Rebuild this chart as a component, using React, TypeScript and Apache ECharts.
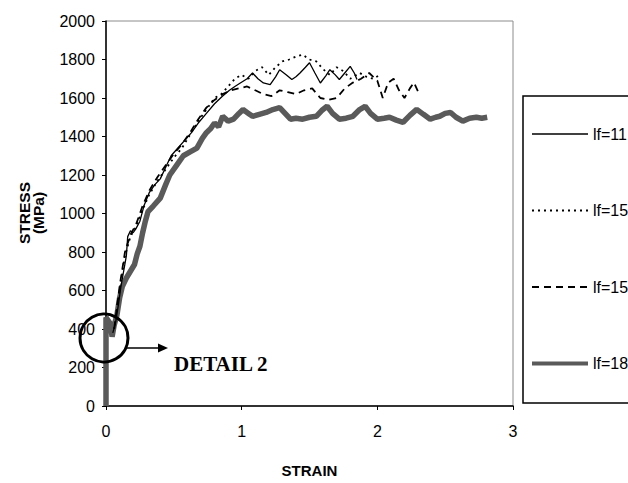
import React, { useEffect, useRef } from "react";
import * as echarts from "echarts";

const xTicks = [0, 1, 2, 3];
const yTicks = [0, 200, 400, 600, 800, 1000, 1200, 1400, 1600, 1800, 2000];

const seriesNames = ["lf=11", "lf=15", "lf=15 ", "lf=18"];

const lf11: [number, number][] = [
  [0.05, 380], [0.07, 430], [0.09, 520], [0.11, 620], [0.13, 700], [0.15, 780], [0.16, 880],
  [0.18, 910], [0.2, 900], [0.22, 920], [0.25, 960], [0.28, 1040], [0.32, 1110], [0.36, 1150],
  [0.4, 1180], [0.44, 1240], [0.48, 1300], [0.53, 1340], [0.58, 1380], [0.63, 1420], [0.68, 1470],
  [0.74, 1520], [0.8, 1570], [0.86, 1610], [0.91, 1640], [0.95, 1660], [0.99, 1678], [1.04, 1700],
  [1.08, 1730], [1.12, 1700], [1.16, 1678], [1.21, 1670], [1.25, 1710], [1.28, 1747], [1.33, 1720],
  [1.37, 1696], [1.4, 1710], [1.43, 1730], [1.47, 1760], [1.5, 1783], [1.54, 1730], [1.58, 1678],
  [1.62, 1715], [1.65, 1747], [1.69, 1720], [1.72, 1696], [1.76, 1730], [1.8, 1764], [1.83, 1730],
  [1.85, 1696],
];

const lf15dotted: [number, number][] = [
  [0.06, 400], [0.1, 600], [0.14, 780], [0.18, 880], [0.22, 930], [0.27, 1020], [0.32, 1100],
  [0.38, 1170], [0.44, 1230], [0.5, 1290], [0.56, 1340], [0.62, 1410], [0.68, 1480], [0.74, 1540],
  [0.8, 1600], [0.85, 1620], [0.9, 1660], [0.95, 1700], [1.0, 1720], [1.05, 1700], [1.1, 1740],
  [1.15, 1760], [1.2, 1720], [1.25, 1760], [1.3, 1790], [1.35, 1800], [1.4, 1815], [1.45, 1825],
  [1.5, 1800], [1.55, 1790], [1.6, 1750], [1.65, 1720], [1.7, 1760], [1.75, 1740], [1.8, 1700],
  [1.87, 1730], [1.92, 1710], [1.97, 1700], [2.02, 1720],
];

const lf15dashed: [number, number][] = [
  [0.06, 400], [0.1, 620], [0.14, 800], [0.18, 890], [0.22, 940], [0.27, 1040], [0.32, 1120],
  [0.38, 1190], [0.44, 1250], [0.5, 1310], [0.56, 1360], [0.62, 1420], [0.68, 1490], [0.74, 1550],
  [0.8, 1590], [0.86, 1620], [0.92, 1640], [0.98, 1650], [1.04, 1660], [1.1, 1640], [1.16, 1620],
  [1.22, 1610], [1.28, 1640], [1.34, 1630], [1.4, 1620], [1.46, 1640], [1.52, 1650], [1.58, 1600],
  [1.64, 1590], [1.7, 1600], [1.76, 1650], [1.82, 1680], [1.88, 1700], [1.94, 1730], [2.0, 1690],
  [2.04, 1600], [2.08, 1680], [2.12, 1700], [2.16, 1640], [2.2, 1600], [2.24, 1650], [2.27, 1680],
  [2.3, 1634],
];

const lf18: [number, number][] = [
  [0, 0], [0, 460], [0.03, 430], [0.045, 360], [0.06, 420], [0.08, 470], [0.1, 560], [0.12, 620],
  [0.15, 665], [0.18, 700], [0.21, 735], [0.23, 790], [0.25, 830], [0.27, 900], [0.29, 960],
  [0.31, 1010], [0.35, 1040], [0.4, 1080], [0.44, 1150], [0.47, 1200], [0.52, 1250], [0.57, 1300],
  [0.62, 1320], [0.67, 1340], [0.71, 1390], [0.74, 1420], [0.77, 1440], [0.8, 1470], [0.83, 1450],
  [0.86, 1505], [0.9, 1480], [0.94, 1490], [0.98, 1520], [1.01, 1540], [1.05, 1520], [1.08, 1505],
  [1.13, 1515], [1.18, 1525], [1.23, 1540], [1.28, 1550], [1.32, 1520], [1.36, 1490], [1.4, 1495],
  [1.45, 1490], [1.5, 1500], [1.55, 1505], [1.59, 1535], [1.63, 1557], [1.67, 1520], [1.72, 1490],
  [1.77, 1495], [1.82, 1505], [1.87, 1540], [1.91, 1557], [1.95, 1520], [2.0, 1490], [2.05, 1495],
  [2.09, 1500], [2.14, 1485], [2.19, 1474], [2.24, 1510], [2.29, 1541], [2.34, 1515], [2.39, 1490],
  [2.43, 1500], [2.46, 1505], [2.5, 1520], [2.54, 1525], [2.58, 1500], [2.63, 1480], [2.68, 1495],
  [2.73, 1500], [2.77, 1495], [2.81, 1500],
];

const annotationText = "DETAIL 2";
const xAxisTitle = "STRAIN";
const yAxisTitle = "STRESS\n(MPa)";

export default function App() {
  const ref = useRef<HTMLDivElement>(null);
  useEffect(() => {
    if (!ref.current) return;
    const chart = echarts.init(ref.current, undefined, { renderer: "svg" });
    const font = "Arial, 'Liberation Sans', sans-serif";
    const styles = [
      { color: "#000", width: 1.3, type: "solid" as any },
      { color: "#000", width: 1.8, type: [2, 4] as any },
      { color: "#000", width: 1.8, type: [7, 5] as any },
      { color: "#5a5a5a", width: 5.5, type: "solid" as any },
    ];
    const legendWidths = [1.3, 1.8, 2, 4];
    const datas = [lf11, lf15dotted, lf15dashed, lf18];
    chart.setOption({
      animation: false,
      backgroundColor: "#ffffff",
      textStyle: { fontFamily: font },
      grid: {
        left: 106,
        top: 21,
        width: 407,
        height: 388,
        show: true,
        borderColor: "#8c8c8c",
        borderWidth: 1,
        backgroundColor: "transparent",
      },
      xAxis: {
        type: "value",
        min: xTicks[0],
        max: xTicks[xTicks.length - 1],
        interval: 1,
        name: xAxisTitle,
        nameLocation: "middle",
        nameGap: 57,
        nameTextStyle: { fontSize: 15, fontWeight: "bold", color: "#000", fontFamily: font },
        axisLine: { lineStyle: { color: "#000", width: 1.5 } },
        axisTick: { show: true, length: 4, lineStyle: { color: "#000", width: 1 } },
        axisLabel: { fontSize: 16, color: "#000", margin: 17, fontFamily: font, formatter: (v: number) => String(v) },
        splitLine: { show: false },
      },
      yAxis: {
        type: "value",
        min: yTicks[0],
        max: yTicks[yTicks.length - 1],
        interval: 200,
        axisLine: { show: true, lineStyle: { color: "#000", width: 1.5 } },
        axisTick: { show: true, length: 4, lineStyle: { color: "#000", width: 1 } },
        axisLabel: { fontSize: 16, color: "#000", margin: 11, fontFamily: font, formatter: (v: number) => String(v) },
        splitLine: { show: false },
      },
      legend: {
        orient: "vertical",
        left: 530,
        top: 126,
        padding: 0,
        itemWidth: 56,
        itemHeight: 16,
        itemGap: 60.5,
        itemStyle: { opacity: 0 },
        data: seriesNames.map((n, i) => ({
          name: n,
          itemStyle: { opacity: 0 },
          lineStyle: { color: styles[i].color, width: legendWidths[i], type: styles[i].type },
        })),
        formatter: (n: string) => n.trim(),
        textStyle: { fontSize: 16, color: "#000", fontFamily: font, lineHeight: 16 },
        selectedMode: false,
      },
      series: seriesNames.map((n, i) => ({
        name: n,
        type: "line",
        data: datas[i],
        symbol: "none",
        lineStyle: styles[i],
        itemStyle: { color: styles[i].color },
        z: i === 3 ? 3 : 4,
      })),
      graphic: [
        {
          type: "rect",
          shape: { x: 523, y: 96, width: 140, height: 307 },
          style: { fill: "transparent", stroke: "#000", lineWidth: 1.5 },
          z: 10,
        },
        {
          type: "text",
          x: 31,
          y: 213,
          rotation: Math.PI / 2,
          style: {
            text: yAxisTitle,
            fontSize: 15.5,
            fontWeight: "bold",
            fontFamily: font,
            fill: "#000",
            align: "center",
            verticalAlign: "middle",
            lineHeight: 14,
          },
          z: 10,
        },
        {
          type: "circle",
          shape: { cx: 104, cy: 338, r: 24 },
          style: { fill: "transparent", stroke: "#000", lineWidth: 3 },
          z: 10,
        },
        {
          type: "line",
          shape: { x1: 127, y1: 348, x2: 160, y2: 348 },
          style: { stroke: "#000", lineWidth: 1.5 },
          z: 10,
        },
        {
          type: "polygon",
          shape: { points: [[158, 343.5], [168, 348], [158, 352.5]] },
          style: { fill: "#000" },
          z: 10,
        },
        {
          type: "text",
          x: 174,
          y: 364,
          style: {
            text: annotationText,
            fontSize: 21,
            fontWeight: "bold",
            fontFamily: "'Liberation Serif', 'Times New Roman', serif",
            fill: "#000",
            align: "left",
            verticalAlign: "middle",
          },
          z: 10,
        },
      ],
    });
    return () => chart.dispose();
  }, []);
  return (
    <div
      ref={ref}
      style={{ position: "fixed", left: 0, top: 0, width: 628, height: 483 }}
    />
  );
}
